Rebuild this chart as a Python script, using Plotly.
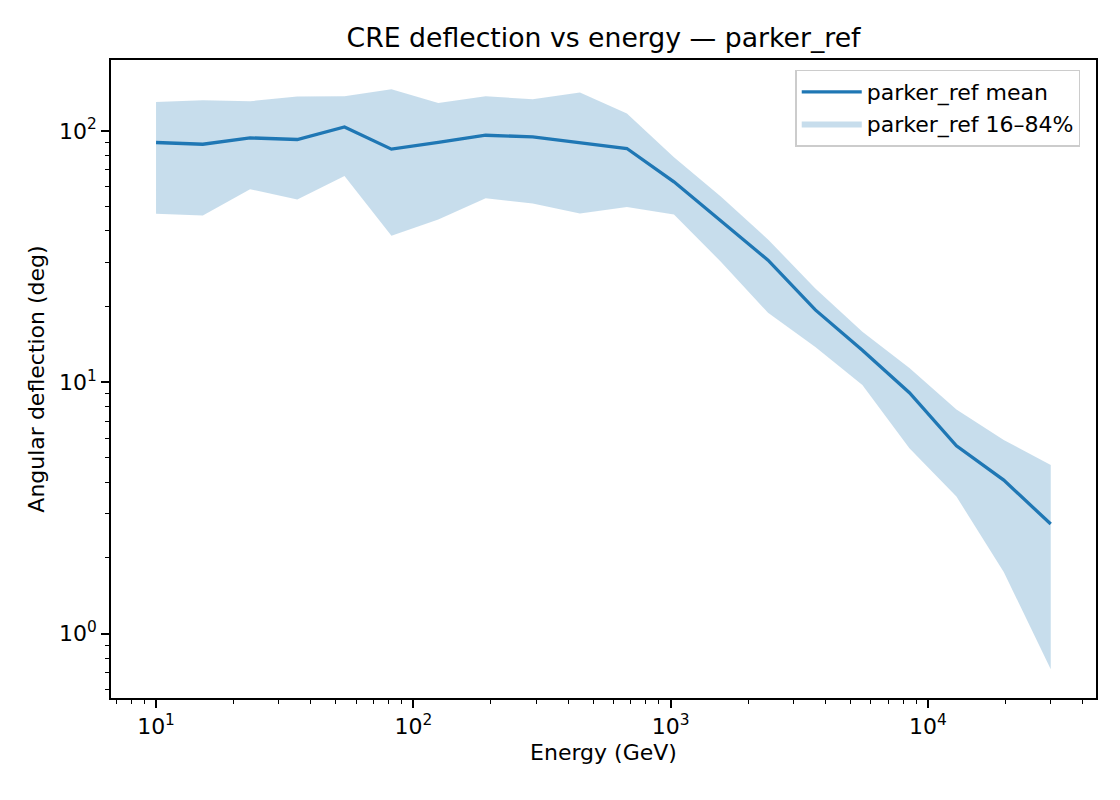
import plotly.graph_objects as go

energy_gev = [10, 15.2, 23.2, 35.4, 54.0, 82.2, 125, 191, 291, 444, 676,
              1030, 1570, 2390, 3650, 5560, 8470, 12900, 19700, 30000]
mean_deg = [89.9, 88.5, 93.8, 92.4, 103.7, 84.6, 90.0, 96.1, 94.7, 89.8, 85.1,
            62.7, 43.9, 30.6, 19.4, 13.4, 9.09, 5.59, 4.08, 2.73]
upper_deg = [130.4, 132.4, 131.2, 137.0, 137.4, 146.5, 129.2, 137.4, 133.6, 142.2, 117.3,
             78.6, 54.7, 37.0, 23.6, 15.9, 11.4, 7.80, 5.89, 4.69]
lower_deg = [46.8, 46.1, 58.6, 53.4, 66.2, 38.3, 44.4, 54.0, 51.4, 46.9, 49.8,
             46.5, 30.1, 18.9, 13.8, 9.75, 5.46, 3.51, 1.76, 0.722]

major_x = [10, 100, 1000, 10000]
major_x_text = ["10<sup>1</sup>", "10<sup>2</sup>", "10<sup>3</sup>", "10<sup>4</sup>"]
minor_x = [m * d for d in [1, 10, 100, 1000, 10000] for m in range(2, 10) if 6.5 < m * d < 45000]
major_y = [1, 10, 100]
major_y_text = ["10<sup>0</sup>", "10<sup>1</sup>", "10<sup>2</sup>"]
minor_y = [m * d for d in [0.1, 1, 10, 100] for m in range(2, 10) if 0.55 < m * d < 190]

blue = "#1f77b4"
font = "DejaVu Sans, Arial, sans-serif"
fs = 22

fig = go.Figure()
fig.add_trace(go.Scatter(
    x=energy_gev + energy_gev[::-1],
    y=upper_deg + lower_deg[::-1],
    fill="toself", fillcolor="rgba(31,119,180,0.25)",
    line=dict(width=0, color="rgba(31,119,180,0)"),
    mode="lines", name="parker_ref 16–84%", legendrank=2, hoverinfo="skip",
))
fig.add_trace(go.Scatter(
    x=energy_gev, y=mean_deg, mode="lines",
    line=dict(color=blue, width=3.3),
    name="parker_ref mean", legendrank=1,
))

axis_common = dict(
    showgrid=False, zeroline=False, showline=True, linecolor="black", linewidth=1.8,
    mirror=True, ticks="outside", ticklen=8, tickwidth=1.8, tickcolor="black",
    tickfont=dict(size=fs, color="black", family=font),
)
minor_style = dict(ticks="outside", ticklen=4.5, tickwidth=1.3, tickcolor="black")
fig.update_xaxes(type="log", range=[0.825, 4.653], tickvals=major_x, ticktext=major_x_text,
                 minor=dict(tickvals=minor_x, **minor_style),
                 title=dict(text="Energy (GeV)", font=dict(size=fs, color="black", family=font), standoff=6),
                 **axis_common)
fig.update_yaxes(type="log", range=[-0.256, 2.282], tickvals=major_y, ticktext=major_y_text,
                 minor=dict(tickvals=minor_y, **minor_style),
                 title=dict(text="Angular deflection (deg)", font=dict(size=fs, color="black", family=font), standoff=8),
                 **axis_common)

fig.update_layout(
    width=1120, height=800,
    margin=dict(l=111, r=24, t=60, b=102),
    paper_bgcolor="white", plot_bgcolor="white",
    font=dict(family=font, color="black", size=fs),
    title=dict(text="CRE deflection vs energy — parker_ref", x=0.5, xref="paper", xanchor="center",
               y=0.953, yanchor="middle", font=dict(size=26.7, color="black", family=font)),
    legend=dict(x=0.984, y=0.985, xanchor="right", yanchor="top", itemwidth=60,
                bgcolor="rgba(255,255,255,0.8)", bordercolor="#cccccc", borderwidth=1.5,
                font=dict(size=fs, color="black", family=font), tracegroupgap=0),
    showlegend=True,
)

fig.write_html("out.html", config={"displayModeBar": False},
               post_script="document.body.style.margin='0';")
